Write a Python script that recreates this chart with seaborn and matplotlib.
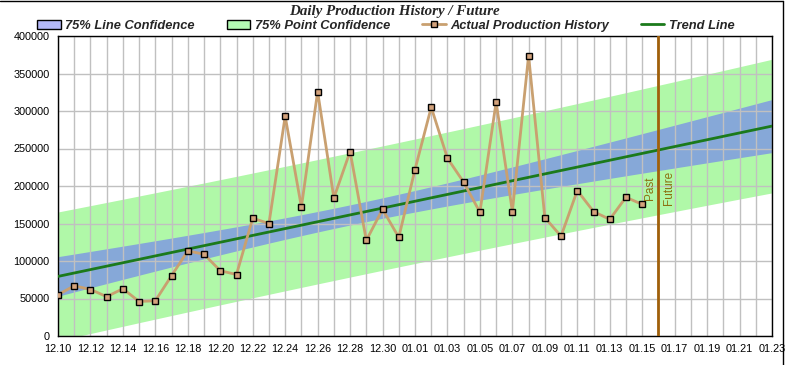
import numpy as np
import pandas as pd
import matplotlib
matplotlib.use("Agg")
import matplotlib.pyplot as plt
from matplotlib.patches import Patch
from matplotlib.lines import Line2D
import seaborn as sns

# ---------------- data ----------------
start_date = "2012-12-10"
production = [55000, 67000, 62000, 52500, 63000, 46000, 47000, 80500, 113500, 109000,
              87000, 82000, 157000, 150000, 293000, 172000, 326000, 184000, 246000, 127500,
              169000, 131500, 222000, 305000, 237000, 205000, 165000, 312000, 166000, 374000,
              158000, 133000, 194000, 166000, 155500, 185000, 175500]
axis_days = 45            # 12.10 .. 01.23
future_day = "2013-01-16"
y_ticks = [0, 50000, 100000, 150000, 200000, 250000, 300000, 350000, 400000]
t_75 = 1.17               # two-sided 75% t value, df = n-2

title = "Daily Production History / Future"
legend_labels = ["75% Line Confidence", "75% Point Confidence",
                 "Actual Production History", "Trend Line"]

# ---------------- derived ----------------
dates = pd.date_range(start_date, periods=len(production), freq="D")
day = np.array((dates - dates[0]).days, dtype=float)
y = np.array(production, dtype=float)
df = pd.DataFrame({"day": day, "production": y})

all_dates = pd.date_range(start_date, periods=axis_days, freq="D")
tick_labels = [d.strftime("%m.%d") for d in all_dates]
x_max = axis_days - 1

n = len(y)
xm = day.mean()
Sxx = ((day - xm) ** 2).sum()
slope = ((day - xm) * (y - y.mean())).sum() / Sxx
icpt = y.mean() - slope * xm
resid = y - (icpt + slope * day)
s = np.sqrt((resid ** 2).sum() / (n - 2))

xs = np.linspace(0, x_max, 200)
fit = icpt + slope * xs
hw_line = t_75 * s * np.sqrt(1 / n + (xs - xm) ** 2 / Sxx)
hw_pt = t_75 * s * np.sqrt(1 + 1 / n + (xs - xm) ** 2 / Sxx)
trend_df = pd.DataFrame({"day": xs, "trend": fit})
fday = (pd.Timestamp(future_day) - dates[0]).days

# ---------------- style ----------------
sns.set_theme(style="white")
plt.rcParams["font.family"] = ["Liberation Sans", "DejaVu Sans"]

c_green_band = "#b0f8a8"
c_blue_band = "#86a8d8"
c_leg_blue = "#b4b8f8"
c_leg_green = "#b4fab4"
c_actual = "#c9a070"
c_marker = "#d3a27c"
c_trend = "#1b7a1b"
c_future = "#a0600a"
c_future_txt = "#8c7010"

fig = plt.figure(figsize=(7.91, 3.65), dpi=100)
ax = fig.add_axes([58 / 791, 1 - 336 / 365, (772 - 58) / 791, (336 - 36) / 365])

ax.fill_between(xs, fit - hw_pt, fit + hw_pt, color=c_green_band, lw=0, zorder=1)
ax.fill_between(xs, fit - hw_line, fit + hw_line, color=c_blue_band, lw=0, zorder=1.1)

sns.lineplot(data=trend_df, x="day", y="trend", ax=ax, color=c_trend, lw=2, zorder=3)
sns.lineplot(data=df, x="day", y="production", ax=ax, color=c_actual, lw=2,
             marker="s", markersize=5, markerfacecolor=c_marker,
             markeredgecolor="black", markeredgewidth=1, zorder=4)

ax.axvline(fday, color=c_future, lw=2, zorder=5)
ax.text(fday - 0.12, 182000, "Past", rotation=90, ha="right", va="bottom",
        fontsize=8.5, color=c_future_txt, zorder=6)
ax.text(fday + 0.27, 175000, "Future", rotation=90, ha="left", va="bottom",
        fontsize=8.5, color=c_future_txt, zorder=6)

ax.set_xlim(0, x_max)
ax.set_ylim(0, 400000)
ax.set_xticks(np.arange(0, axis_days))
ax.set_xticklabels([lab if i % 2 == 0 else "" for i, lab in enumerate(tick_labels)])
ax.set_yticks(y_ticks)
ax.set_yticklabels([str(v) for v in y_ticks])
ax.set_xlabel("")
ax.set_ylabel("")
ax.tick_params(axis="both", which="both", direction="out", length=4, width=1,
               color="black", labelsize=7.8, labelcolor="black", pad=2)
ax.tick_params(axis="x", pad=1.5)
ax.grid(True, color="#c0c0c0", lw=1)
ax.set_axisbelow("line")
for sp in ax.spines.values():
    sp.set_color("black")
    sp.set_linewidth(1)
    sp.set_visible(True)

fig.text(394 / 791, 1 - 11 / 365, title, ha="center", va="center",
         fontsize=10.8, fontweight="bold", fontstyle="italic",
         family=["Liberation Serif", "DejaVu Serif"])

handles = [
    Patch(facecolor=c_leg_blue, edgecolor="black", lw=1),
    Patch(facecolor=c_leg_green, edgecolor="black", lw=1),
    Line2D([], [], color=c_actual, lw=2, marker="s", markersize=4.5,
           markerfacecolor=c_marker, markeredgecolor="black"),
    Line2D([], [], color=c_trend, lw=2),
]
leg = fig.legend(handles, legend_labels, loc="center", ncol=4,
                 bbox_to_anchor=(386 / 791, 1 - 26 / 365), frameon=False,
                 prop={"size": 9.3, "weight": "bold", "style": "italic"},
                 handlelength=1.8, handleheight=0.7, handletextpad=0.35,
                 columnspacing=2.5, borderpad=0, borderaxespad=0)

# outer frame (top and right)
fig.add_artist(Line2D([0, 783 / 791], [1 - 1 / 365, 1 - 1 / 365],
                      transform=fig.transFigure, color="black", lw=1))
fig.add_artist(Line2D([783 / 791, 783 / 791], [0, 1 - 1 / 365],
                      transform=fig.transFigure, color="black", lw=1))

fig.savefig("out.png", dpi=100)
